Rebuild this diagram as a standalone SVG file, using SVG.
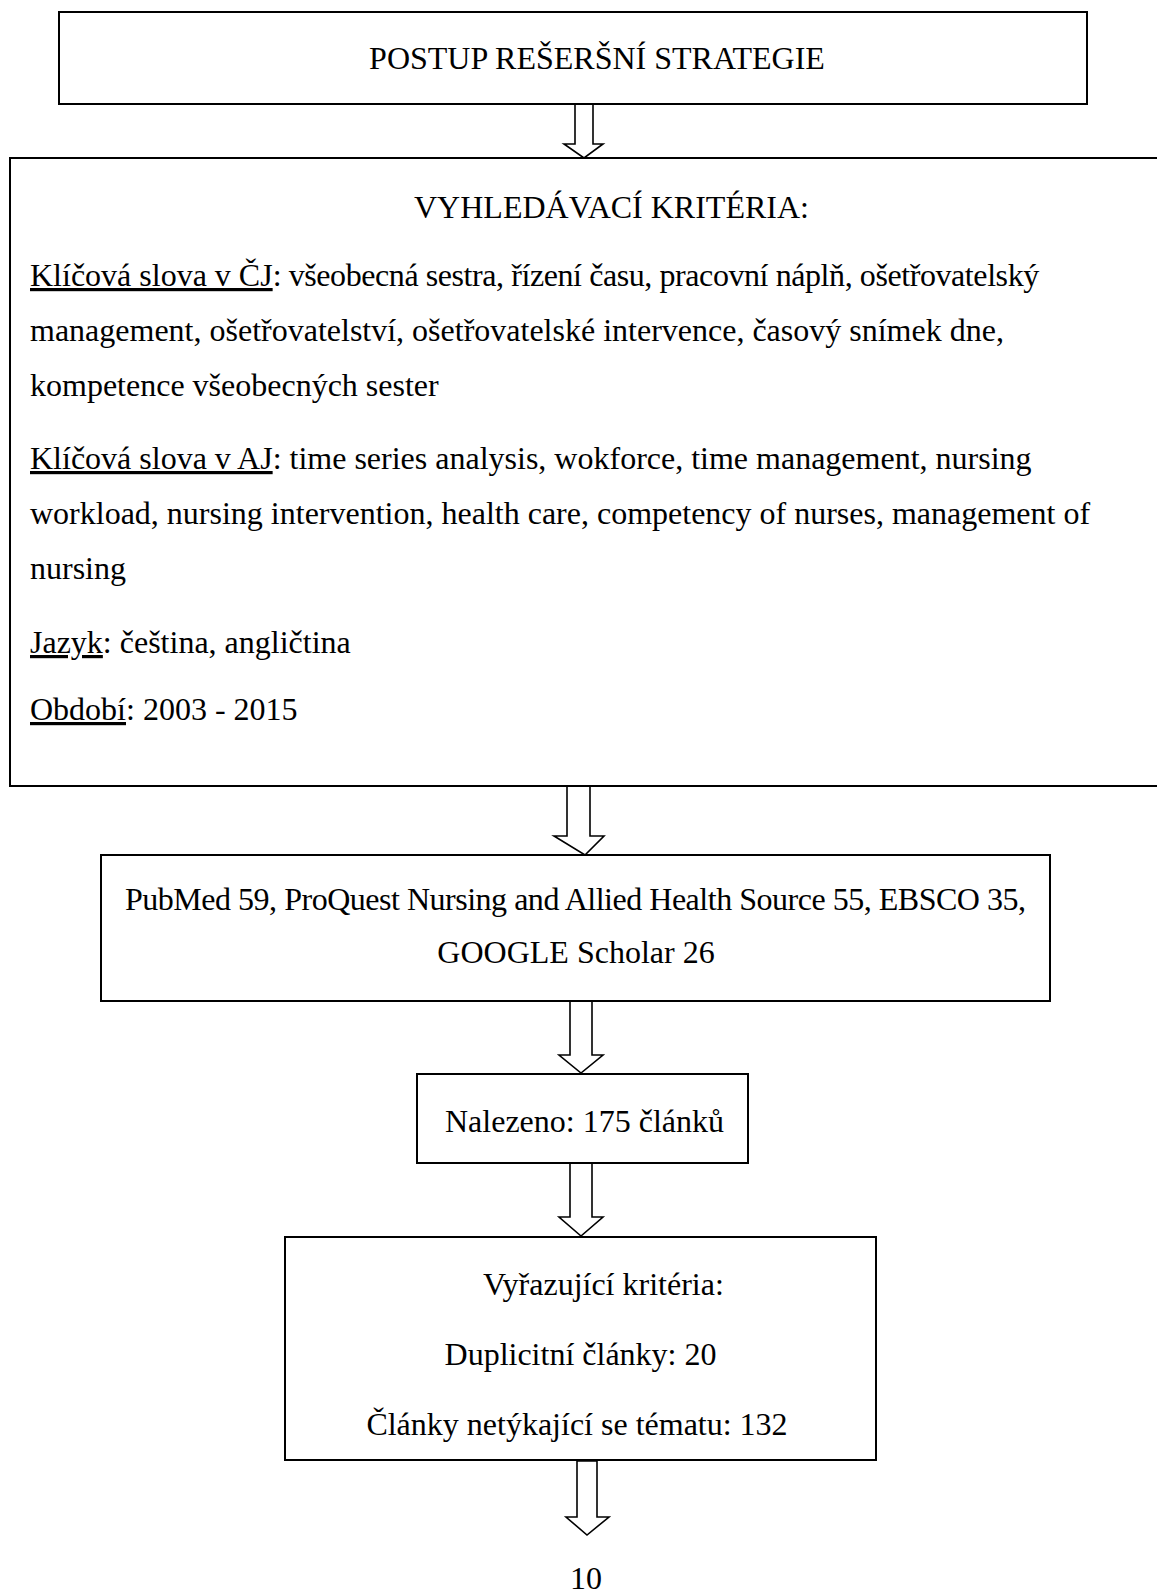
<svg xmlns="http://www.w3.org/2000/svg" width="1157" height="1593" viewBox="0 0 1157 1593">
<style>
  .box { fill: #ffffff; stroke: #000000; stroke-width: 2; }
  .arrow { fill: #ffffff; stroke: #000000; stroke-width: 1.6; stroke-linejoin: miter; }
  text { font-family: "Liberation Serif", "Times New Roman", serif; font-size: 32px; fill: #000000; }
  .mid { text-anchor: middle; }
  .u { text-decoration: underline; }
</style>
<rect width="1157" height="1593" fill="#ffffff"/>
<g id="connectors">
  <polygon class="arrow" points="575,104 593,104 593,144 603,144 584,158 564,144 575,144"/>
  <polygon class="arrow" points="567,786 590,786 590,836 604,836 585,855 554,836 567,836"/>
  <polygon class="arrow" points="570,1001 592,1001 592,1055 603,1055 581,1073 559,1055 570,1055"/>
  <polygon class="arrow" points="570,1163 592,1163 592,1217 603,1217 581,1236 559,1217 570,1217"/>
  <polygon class="arrow" points="577,1461 597,1461 597,1517 609,1517 587,1535 566,1517 577,1517"/>
</g>
<g id="node-postup">
  <rect class="box" x="59" y="12" width="1028" height="92"/>
  <text class="mid" x="597" y="69">POSTUP REŠERŠNÍ STRATEGIE</text>
</g>
<g id="node-kriteria">
  <rect class="box" x="10" y="158" width="1160" height="628"/>
  <text x="414" y="218">VYHLEDÁVACÍ KRITÉRIA:</text>
  <text x="30" y="286"><tspan class="u">Klíčová slova v ČJ</tspan><tspan letter-spacing="-0.42">: všeobecná sestra, řízení času, pracovní náplň, ošetřovatelský</tspan></text>
  <text x="30" y="341">management, ošetřovatelství, ošetřovatelské intervence, časový snímek dne,</text>
  <text x="30" y="396">kompetence všeobecných sester</text>
  <text x="30" y="469"><tspan class="u">Klíčová slova v AJ</tspan>: time series analysis, wokforce, time management, nursing</text>
  <text x="30" y="524">workload, nursing intervention, health care, competency of nurses, management of</text>
  <text x="30" y="579">nursing</text>
  <text x="30" y="653"><tspan class="u">Jazyk</tspan>: čeština, angličtina</text>
  <text x="30" y="720"><tspan class="u">Období</tspan>: 2003 - 2015</text>
</g>
<g id="node-databaze">
  <rect class="box" x="101" y="855" width="949" height="146"/>
  <text x="125" y="910" textLength="901" lengthAdjust="spacing">PubMed 59, ProQuest Nursing and Allied Health Source 55,  EBSCO 35,</text>
  <text class="mid" x="576" y="963">GOOGLE Scholar 26</text>
</g>
<g id="node-nalezeno">
  <rect class="box" x="417" y="1074" width="331" height="89"/>
  <text class="mid" x="584.5" y="1132">Nalezeno: 175 článků</text>
</g>
<g id="node-vyrazujici">
  <rect class="box" x="285" y="1237" width="591" height="223"/>
  <text x="483" y="1295">Vyřazující kritéria:</text>
  <text class="mid" x="580.5" y="1365">Duplicitní články: 20</text>
  <text class="mid" x="577" y="1435">Články netýkající se tématu: 132</text>
</g>
<g id="node-result">
  <text class="mid" x="586" y="1589">10</text>
</g>
</svg>
